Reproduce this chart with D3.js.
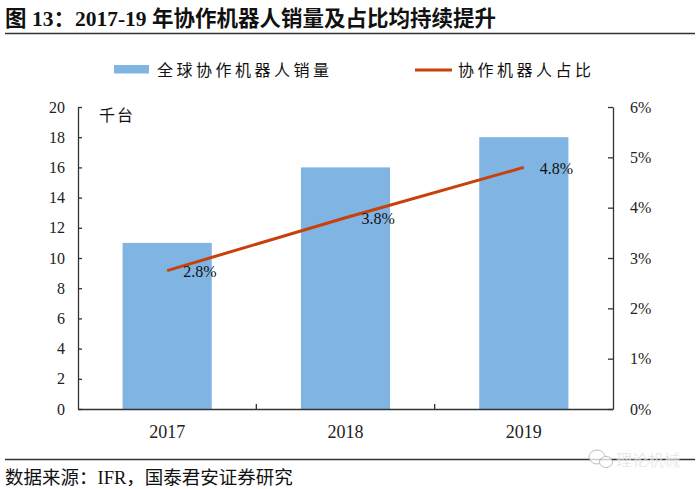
<!DOCTYPE html>
<html>
<head>
<meta charset="utf-8">
<script src="https://cdn.jsdelivr.net/npm/d3@7"></script>
<style>
  body { margin: 0; background: #fff; }
  svg { display: block; }
  .cn { font-family: "Noto Sans CJK SC", sans-serif; }
  .num { font-family: "Liberation Serif", "Times New Roman", serif; }
</style>
</head>
<body>
<div class="graphics"></div>
<script>
// dados do grafico
const anos = ["2017", "2018", "2019"];
const vendas = [11, 16, 18];          // 千台
const participacao = [2.75, 3.8, 4.8]; // %
const rotulos = ["2.8%", "3.8%", "4.8%"];
const ticksEsq = [0, 2, 4, 6, 8, 10, 12, 14, 16, 18, 20];
const ticksDir = [0, 1, 2, 3, 4, 5, 6];

const width = 700;
const height = 489;
const margin = { top: 107, bottom: 80, left: 78, right: 87 };

const svg = d3.select('.graphics')
  .append('svg')
  .attr('width', width)
  .attr('height', height);

// titulo
const titulo = svg.append('text')
  .attr('x', 5)
  .attr('y', 26)
  .attr('font-size', 21.5)
  .attr('font-weight', 'bold')
  .attr('fill', '#111');
titulo.append('tspan').attr('class', 'cn').text('图');
titulo.append('tspan').attr('class', 'num').text(' 13');
titulo.append('tspan').attr('class', 'cn').text('：');
titulo.append('tspan').attr('class', 'num').text('2017-19 ');
titulo.append('tspan').attr('class', 'cn').text('年协作机器人销量及占比均持续提升');

svg.append('line')
  .attr('x1', 5).attr('x2', 695)
  .attr('y1', 33.5).attr('y2', 33.5)
  .attr('stroke', '#333').attr('stroke-width', 1.5);

// legenda
svg.append('rect')
  .attr('x', 114).attr('y', 65)
  .attr('width', 35).attr('height', 8.5)
  .attr('fill', '#7FB4E3');
svg.append('text')
  .attr('class', 'cn')
  .attr('x', 157).attr('y', 76)
  .attr('font-size', 16)
  .attr('letter-spacing', 3.5)
  .attr('fill', '#111')
  .text('全球协作机器人销量');

svg.append('line')
  .attr('x1', 415).attr('x2', 452)
  .attr('y1', 70).attr('y2', 70)
  .attr('stroke', '#C8410C').attr('stroke-width', 3);
svg.append('text')
  .attr('class', 'cn')
  .attr('x', 458).attr('y', 76)
  .attr('font-size', 16)
  .attr('letter-spacing', 3.5)
  .attr('fill', '#111')
  .text('协作机器人占比');

// escalas
const x = d3.scaleBand()
  .domain(anos)
  .range([margin.left, width - margin.right])
  .padding(0);

const y = d3.scaleLinear()
  .domain([0, 20])
  .range([height - margin.bottom, margin.top]);

const y2 = d3.scaleLinear()
  .domain([0, 6])
  .range([height - margin.bottom, margin.top]);

const larguraBarra = x.bandwidth() * 0.5;

// barras
svg.append('g')
  .attr('fill', '#7FB4E3')
  .selectAll('rect')
  .data(vendas)
  .join('rect')
  .attr('x', (d, i) => x(anos[i]) + (x.bandwidth() - larguraBarra) / 2)
  .attr('y', d => y(d))
  .attr('width', larguraBarra)
  .attr('height', d => y(0) - y(d));

// eixos
const eixoEsq = svg.append('g')
  .attr('transform', `translate(${margin.left},0)`)
  .call(d3.axisLeft(y).tickValues(ticksEsq).tickSizeInner(-4).tickSizeOuter(0).tickPadding(13));

const eixoDir = svg.append('g')
  .attr('transform', `translate(${width - margin.right},0)`)
  .call(d3.axisRight(y2).tickValues(ticksDir).tickFormat(d => d + '%')
    .tickSizeInner(-5).tickSizeOuter(0).tickPadding(17));

const eixoX = svg.append('g')
  .attr('transform', `translate(0,${height - margin.bottom})`)
  .call(d3.axisBottom(x).tickSize(0).tickPadding(16));

// ticks entre categorias
eixoX.selectAll('.sep')
  .data(anos.slice(1))
  .join('line')
  .attr('class', 'sep')
  .attr('x1', d => x(d)).attr('x2', d => x(d))
  .attr('y1', 0).attr('y2', -5)
  .attr('stroke', '#333').attr('stroke-width', 1.3);

[eixoEsq, eixoDir, eixoX].forEach(g => {
  g.selectAll('path.domain').attr('stroke', '#333').attr('stroke-width', 1.3);
  g.selectAll('.tick line').attr('stroke', '#333').attr('stroke-width', 1.3);
  g.selectAll('text')
    .attr('class', 'num')
    .attr('fill', '#222')
    .attr('font-size', 16);
});
eixoX.selectAll('text').attr('font-size', 18);

// unidade
svg.append('text')
  .attr('class', 'cn')
  .attr('x', 99).attr('y', 121)
  .attr('font-size', 16)
  .attr('letter-spacing', 2)
  .attr('fill', '#111')
  .text('千台');

// linha
const cx = (d, i) => x(anos[i]) + x.bandwidth() / 2;
const linha = d3.line()
  .x(cx)
  .y(d => y2(d));

svg.append('path')
  .datum(participacao)
  .attr('d', linha)
  .attr('fill', 'none')
  .attr('stroke', '#C8410C')
  .attr('stroke-width', 3);

svg.append('g')
  .selectAll('text')
  .data(participacao)
  .join('text')
  .attr('class', 'num')
  .attr('x', (d, i) => cx(d, i) + 16)
  .attr('y', d => y2(d) + 6.5)
  .attr('font-size', 16)
  .attr('fill', '#111')
  .text((d, i) => rotulos[i]);

// rodape
svg.append('line')
  .attr('x1', 5).attr('x2', 695)
  .attr('y1', 459.5).attr('y2', 459.5)
  .attr('stroke', '#333').attr('stroke-width', 1.3);

const fonte = svg.append('text')
  .attr('x', 5).attr('y', 484)
  .attr('font-size', 18.5)
  .attr('fill', '#111');
fonte.append('tspan').attr('class', 'cn').text('数据来源：');
fonte.append('tspan').attr('class', 'num').text('IFR');
fonte.append('tspan').attr('class', 'cn').text('，国泰君安证券研究');

// marca d'agua
const marca = svg.append('g').attr('opacity', 0.75);
marca.append('ellipse')
  .attr('cx', 597).attr('cy', 457).attr('rx', 8).attr('ry', 7)
  .attr('fill', '#fff').attr('stroke', '#aaa').attr('stroke-width', 1);
marca.append('ellipse')
  .attr('cx', 606).attr('cy', 462).attr('rx', 6.5).attr('ry', 5.5)
  .attr('fill', '#fff').attr('stroke', '#aaa').attr('stroke-width', 1);
marca.append('text')
  .attr('class', 'cn')
  .attr('x', 616).attr('y', 466)
  .attr('font-size', 16)
  .attr('fill', '#bbb')
  .attr('stroke', '#fff')
  .attr('stroke-width', 0.6)
  .text('理论机械');

svg.node();
</script>
</body>
</html>
